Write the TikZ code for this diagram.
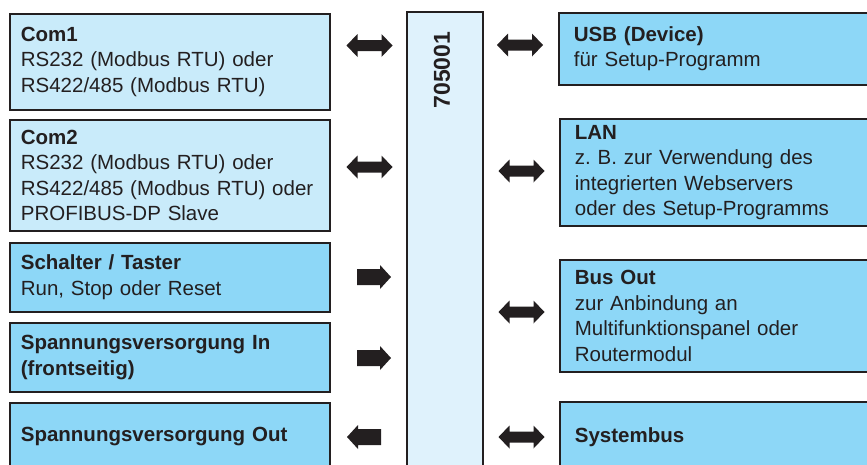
\documentclass[tikz,border=0pt]{standalone}
\usepackage{fontspec}
\setmainfont{Liberation Sans}
\frenchspacing
\definecolor{ink}{HTML}{231F20}
\definecolor{boxdark}{HTML}{8DD7F7}
\definecolor{boxlight}{HTML}{C9EBFA}
\definecolor{core}{HTML}{DFF2FC}
\tikzset{
  base/.style={draw=ink, line width=1.7pt, rectangle, anchor=north west, align=left,
    inner sep=0pt, text=ink, font=\fontsize{20.5}{25.5}\selectfont},
  leftbox/.style={base, text width=298pt, inner xsep=11pt},
  rightbox/.style={base, fill=boxdark, text width=300pt, inner xsep=15pt},
  blockdouble/.pic={\fill[ink] (-23,0) -- (-12,-11.5) -- (-12,-5.5) -- (12,-5.5)
    -- (12,-11.5) -- (23,0) -- (12,11.5) -- (12,5.5) -- (-12,5.5) -- (-12,11.5) -- cycle;},
  blockright/.pic={\fill[ink] (-17,-8) -- (6,-8) -- (6,-12) -- (17,0) -- (6,12)
    -- (6,8) -- (-17,8) -- cycle;},
}
\begin{document}
\begin{tikzpicture}[x=1pt,y=-1pt]
\useasboundingbox (0,0) rectangle (867,464);
\clip (0,0) rectangle (867,464);

% interfaces on the left
\node[leftbox, fill=boxlight, minimum height=96pt] (com1) at (9,13)
  {\textbf{Com1}\\RS232 (Modbus RTU) oder\\RS422/485 (Modbus RTU)};
\node[leftbox, fill=boxlight, minimum height=111pt] (com2) at (9,119)
  {\textbf{Com2}\\RS232 (Modbus RTU) oder\\RS422/485 (Modbus RTU) oder\\PROFIBUS-DP Slave};
\node[leftbox, fill=boxdark, minimum height=69pt] (switch) at (9,242)
  {\textbf{Schalter / Taster}\\Run, Stop oder Reset};
\node[leftbox, fill=boxdark, minimum height=69pt] (pwrin) at (9,322)
  {\textbf{Spannungsversorgung In}\\\textbf{(frontseitig)}};
\node[leftbox, fill=boxdark, minimum height=68pt] (pwrout) at (9,402)
  {\textbf{Spannungsversorgung Out}};

% the device itself
\node[base, fill=core, minimum width=76pt, minimum height=470pt] (dev) at (406,11) {};
\node[text=ink, rotate=90, font=\bfseries\fontsize{23}{23}\selectfont, inner sep=0pt]
  (devlabel) at (442,70) {705001};

% interfaces on the right
\node[rightbox, minimum height=72pt] (usb) at (558,12)
  {\textbf{USB (Device)}\\für Setup-Programm};
\node[rightbox, minimum height=107pt] (lan) at (559,118)
  {\textbf{LAN}\\z.\ B. zur Verwendung des\\integrierten Webservers\\oder des Setup-Programms};
\node[rightbox, minimum height=112pt] (busout) at (559,259)
  {\textbf{Bus Out}\\zur Anbindung an\\Multifunktionspanel oder\\Routermodul};
\node[rightbox, minimum height=70pt] (sysbus) at (559,401)
  {\textbf{Systembus}};

% block arrows
\pic (a-com1) at (369.5,45.5) {blockdouble};
\pic (a-com2) at (369.5,167) {blockdouble};
\pic (a-switch) at (374,277) {blockright};
\pic (a-pwrin) at (374,358) {blockright};
\pic[rotate=180] (a-pwrout) at (364,437) {blockright};
\pic (a-usb) at (520,45) {blockdouble};
\pic (a-lan) at (521.5,171) {blockdouble};
\pic (a-busout) at (521.5,312) {blockdouble};
\pic (a-sysbus) at (521.5,437) {blockdouble};
\end{tikzpicture}
\end{document}
